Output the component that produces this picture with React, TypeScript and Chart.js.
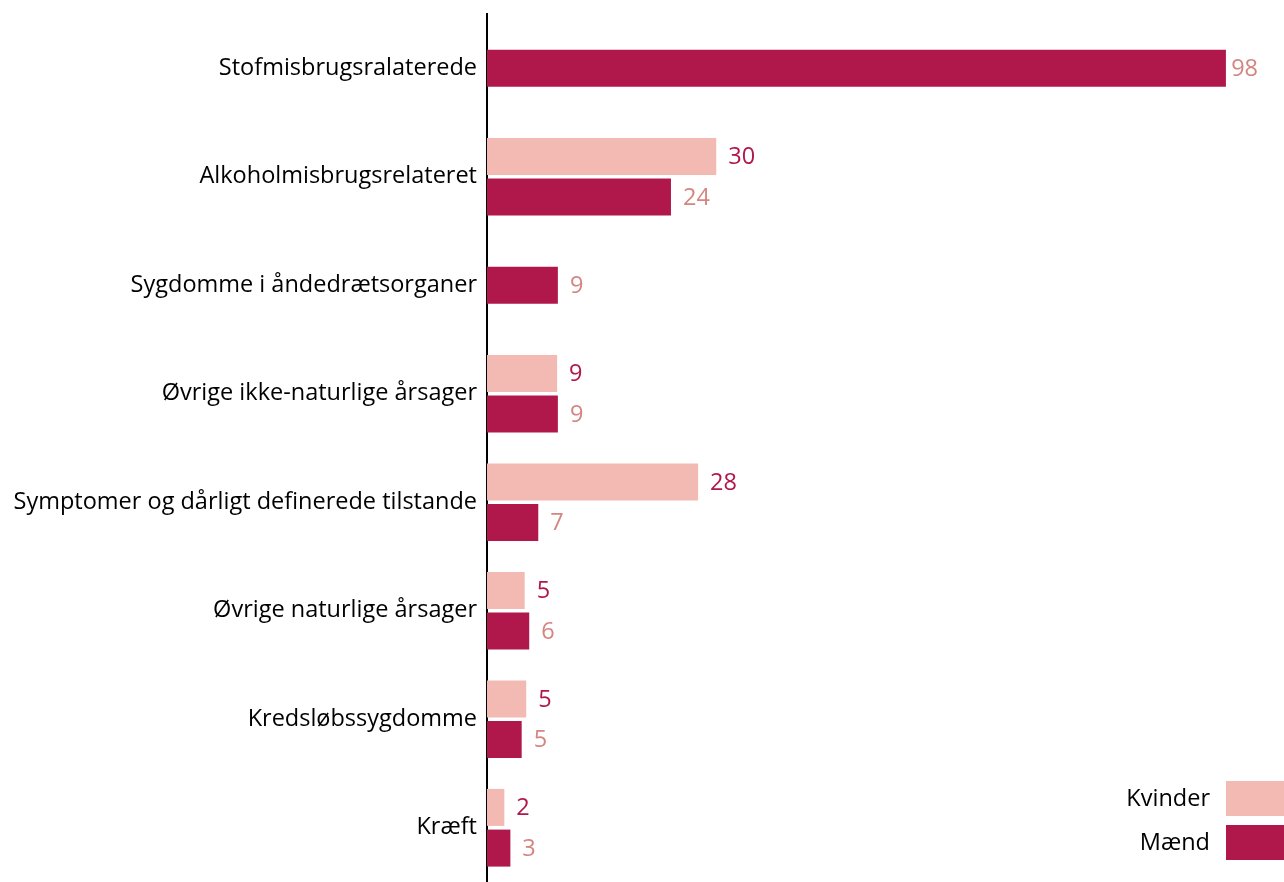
import React, { useEffect, useRef } from "react";
import { Chart, registerables } from "chart.js";

Chart.register(...registerables);

const categories = [
  "Stofmisbrugsralaterede",
  "Alkoholmisbrugsrelateret",
  "Sygdomme i åndedrætsorganer",
  "Øvrige ikke-naturlige årsager",
  "Symptomer og dårligt definerede tilstande",
  "Øvrige naturlige årsager",
  "Kredsløbssygdomme",
  "Kræft",
];

const kvinder: (number | null)[] = [null, 30.4, null, 9.3, 28.0, 5.0, 5.2, 2.3];
const maend: (number | null)[] = [98, 24.4, 9.4, 9.4, 6.8, 5.6, 4.6, 3.1];

const seriesNames = ["Kvinder", "Mænd"];
const barColors = ["#f2bab3", "#b0184c"];
const labelColors = ["#b0184c", "#d4857f"];

const FONT = "'Open Sans', sans-serif";
const FONT_SIZE = 23.5;

const valueLabels = {
  id: "valueLabels",
  afterDatasetsDraw(chart: any) {
    const ctx = chart.ctx;
    ctx.save();
    ctx.font = `${FONT_SIZE}px ${FONT}`;
    ctx.textBaseline = "middle";
    ctx.textAlign = "left";
    chart.data.datasets.forEach((ds: any, di: number) => {
      const meta = chart.getDatasetMeta(di);
      meta.data.forEach((el: any, i: number) => {
        const v = ds.data[i];
        if (v === null || v === undefined) return;
        const txt = String(Math.round(v));
        const w = ctx.measureText(txt).width;
        let x = el.x + 12;
        const maxRight = chart.chartArea.right + 17;
        if (x + w > maxRight) x = maxRight - w;
        ctx.fillStyle = labelColors[di];
        ctx.fillText(txt, x, el.y + 1);
      });
    });
    ctx.restore();
  },
};

const customLegend = {
  id: "customLegend",
  afterDraw(chart: any) {
    const ctx = chart.ctx;
    ctx.save();
    const sw = 58;
    const sh = 35;
    const right = chart.width;
    const tops = [781, 825];
    ctx.font = `${FONT_SIZE}px ${FONT}`;
    ctx.textAlign = "right";
    ctx.textBaseline = "middle";
    seriesNames.forEach((name, i) => {
      ctx.fillStyle = barColors[i];
      ctx.fillRect(right - sw, tops[i], sw, sh);
      ctx.fillStyle = "#000";
      ctx.fillText(name, right - sw - 16, tops[i] + sh / 2 + 1);
    });
    ctx.restore();
  },
};

export default function App() {
  const ref = useRef<HTMLCanvasElement | null>(null);
  useEffect(() => {
    if (!ref.current) return;
    const chart = new Chart(ref.current, {
      type: "bar",
      data: {
        labels: categories,
        datasets: [
          {
            label: seriesNames[0],
            data: kvinder,
            backgroundColor: barColors[0],
            skipNull: true,
            categoryPercentage: 0.75,
            barPercentage: 0.91,
            maxBarThickness: 37,
          } as any,
          {
            label: seriesNames[1],
            data: maend,
            backgroundColor: barColors[1],
            skipNull: true,
            categoryPercentage: 0.75,
            barPercentage: 0.91,
            maxBarThickness: 37,
          } as any,
        ],
      },
      options: {
        indexAxis: "y",
        animation: false,
        responsive: false,
        maintainAspectRatio: false,
        layout: { padding: { top: 14, right: 43, bottom: 0, left: 0 } },
        plugins: {
          legend: { display: false },
          tooltip: { enabled: false },
        },
        scales: {
          x: {
            display: false,
            min: 0,
            max: 100,
          },
          y: {
            grid: { display: false, drawTicks: false },
            border: { display: true, color: "#000", width: 2 },
            ticks: {
              color: "#000",
              padding: 10,
              font: { family: FONT, size: FONT_SIZE },
            },
            afterFit: (scale: any) => {
              scale.width = 487;
              scale.paddingTop = 0;
              scale.paddingBottom = 0;
            },
          },
        },
      },
      plugins: [valueLabels, customLegend],
    });
    return () => chart.destroy();
  }, []);
  return (
    <div style={{ position: "fixed", left: 0, top: 0, width: 1284, height: 882, background: "#fff" }}>
      <canvas ref={ref} width={1284} height={882} style={{ width: 1284, height: 882, display: "block" }} />
    </div>
  );
}
